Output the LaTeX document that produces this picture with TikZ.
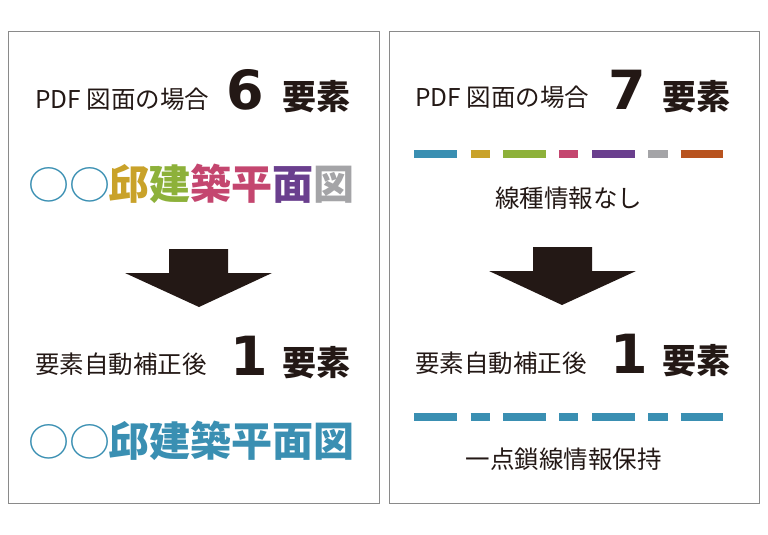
\documentclass[tikz,border=0pt]{standalone}
\usepackage{fontspec}
\newfontfamily\jp{Noto Sans CJK JP}
\newfontfamily\dig{DejaVu Sans}
\definecolor{cblue}{HTML}{3A8FB2}
\definecolor{cgold}{HTML}{C9A22A}
\definecolor{cgreen}{HTML}{8DB13A}
\definecolor{cpink}{HTML}{C4466F}
\definecolor{cpurple}{HTML}{6A3F8E}
\definecolor{cgray}{HTML}{A4A4A7}
\definecolor{corange}{HTML}{B8531F}
\definecolor{ink}{HTML}{231815}
\definecolor{frame}{HTML}{8A8A8A}
\tikzset{
  panel/.style={draw=frame, line width=1pt},
  lbl/.style={inner sep=0pt, anchor=base west, text=ink, font=\jp\fontsize{24.5}{24.5}\selectfont},
  bigdigit/.style={inner sep=0pt, anchor=base west, text=ink, font=\dig\bfseries\fontsize{54}{54}\selectfont},
  bigword/.style={inner sep=0pt, anchor=base west, text=ink, font=\jp\bfseries\fontsize{34}{34}\selectfont},
  title/.style={inner sep=0pt, anchor=base west, font=\jp\bfseries\fontsize{41}{41}\selectfont},
  dashseg/.style={line width=8pt},
  bigarrow/.style={fill=ink}
}
\newcommand{\ring}{{\fontseries{m}\selectfont\scalebox{1.0}[0.94]{○}}}
\begin{document}
\begin{tikzpicture}[x=1pt,y=-1pt]
\useasboundingbox (0,0) rectangle (768,535);
% panels
\draw[panel] (8,32) rectangle (379,503);
\draw[panel] (389,32) rectangle (759,503);

% ---------- left panel ----------
\node[lbl] (l1) at (35,108) {PDF 図面の場合};
\node[bigdigit] (l6) at (226,109) {6};
\node[bigword] (l6w) at (282,109) {要素};
\node[title] (ltitle) at (28,199) {\textcolor{cblue}{\ring\ring}\kern-2pt\textcolor{cgold}{邱}\textcolor{cgreen}{建}\textcolor{cpink}{築平}\textcolor{cpurple}{面}\textcolor{cgray}{図}};
\fill[bigarrow] (169,249) -- (228,249) -- (228,273) -- (272,273) -- (199,307) -- (125,273) -- (169,273) -- cycle;
\node[lbl] (l2) at (35,373) {要素自動補正後};
\node[bigdigit] (l1d) at (230,375) {1};
\node[bigword] (l1w) at (282,375) {要素};
\node[title] (ltitle2) at (28,456) {\textcolor{cblue}{\ring\ring\kern-2pt 邱建築平面図}};

% ---------- right panel ----------
\node[lbl] (r1) at (415,106) {PDF 図面の場合};
\node[bigdigit] (r7) at (608,109) {7};
\node[bigword] (r7w) at (662,109) {要素};
\draw[dashseg, cblue]   (414.3,154) -- (456.7,154);
\draw[dashseg, cgold]   (470.7,154) -- (490,154);
\draw[dashseg, cgreen]  (503.3,154) -- (546,154);
\draw[dashseg, cpink]   (559,154) -- (578.3,154);
\draw[dashseg, cpurple] (592,154) -- (635,154);
\draw[dashseg, cgray]   (648.3,154) -- (667.7,154);
\draw[dashseg, corange] (680.7,154) -- (723.3,154);
\node[lbl, anchor=center] (r2) at (568.5,198) {線種情報なし};
\fill[bigarrow] (533,247) -- (592,247) -- (592,271) -- (636,271) -- (562,305) -- (489,271) -- (533,271) -- cycle;
\node[lbl] (r3) at (415,372) {要素自動補正後};
\node[bigdigit] (r1d) at (610,373) {1};
\node[bigword] (r1w) at (662,373) {要素};
\foreach \a/\b in {414.3/456.7, 470.7/490, 503.3/546, 559/578.3, 592/635, 648.3/667.7, 680.7/723.3}
  \draw[dashseg, cblue] (\a,417) -- (\b,417);
\node[lbl, anchor=center] (r4) at (563.5,459) {一点鎖線情報保持};
\end{tikzpicture}
\end{document}
